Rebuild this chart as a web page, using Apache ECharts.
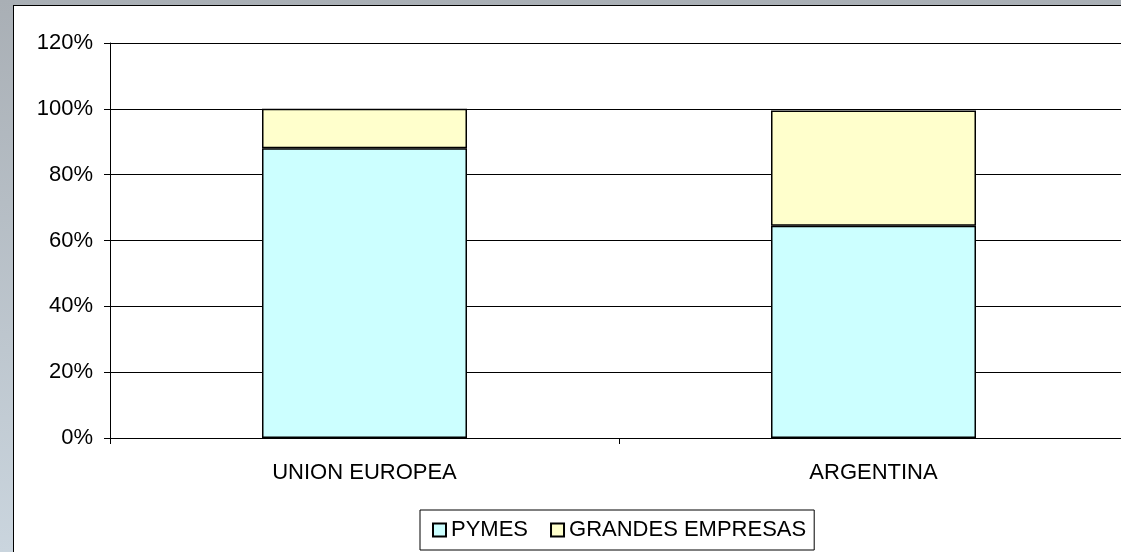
<!DOCTYPE html>
<html>
<head>
<meta charset="utf-8">
<script src="https://cdn.jsdelivr.net/npm/echarts@6/dist/echarts.min.js"></script>
<style>
  html, body {
    margin: 0;
    padding: 0;
    width: 1121px;
    height: 552px;
    overflow: hidden;
    background: linear-gradient(#a9afb5, #cad5de);
  }
  #chart {
    position: absolute;
    left: 13px;
    top: 5px;
    width: 1130px;
    height: 560px;
    border: 1px solid #000;
    background: #fff;
  }
</style>
</head>
<body>
<div id="chart"></div>
<script>
// datos
const categorias = ["UNION EUROPEA", "ARGENTINA"];
const pymes = [88, 64.5];
const grandesEmpresas = [12, 35];

const fuente = "'Liberation Sans', Arial, sans-serif";

const chart = echarts.init(document.getElementById("chart"));

const options = {
  animation: false,
  textStyle: { fontFamily: fuente, color: "#000" },
  grid: {
    left: 96,
    top: 37,
    width: 1018,
    height: 395,
  },
  legend: {
    left: 406,
    top: 504,
    orient: "horizontal",
    icon: "rect",
    itemWidth: 13,
    itemHeight: 13,
    itemGap: 22,
    borderColor: "#000",
    borderWidth: 1,
    padding: [9, 8, 9, 12],
    textStyle: { fontSize: 22, color: "#000", fontFamily: fuente },
    data: ["PYMES", "GRANDES EMPRESAS"],
  },
  xAxis: {
    type: "category",
    data: categorias,
    axisLine: { lineStyle: { color: "#000", width: 1 } },
    axisTick: { show: true, length: 6, lineStyle: { color: "#000" } },
    axisLabel: { fontSize: 22, color: "#000", margin: 24, fontFamily: fuente },
  },
  yAxis: {
    type: "value",
    min: 0,
    max: 120,
    interval: 20,
    axisLine: { show: true, lineStyle: { color: "#000", width: 1 } },
    axisTick: { show: true, length: 6, lineStyle: { color: "#000" } },
    axisLabel: {
      formatter: "{value}%",
      fontSize: 22,
      color: "#000",
      margin: 17,
      fontFamily: fuente,
    },
    splitLine: { show: true, lineStyle: { color: "#000", width: 1 } },
  },
  series: [
    {
      name: "PYMES",
      type: "bar",
      stack: "total",
      barWidth: 205,
      itemStyle: { color: "#ccffff", borderColor: "#000", borderWidth: 1.5 },
      data: pymes,
    },
    {
      name: "GRANDES EMPRESAS",
      type: "bar",
      stack: "total",
      barWidth: 205,
      itemStyle: { color: "#ffffcc", borderColor: "#000", borderWidth: 1.5 },
      data: grandesEmpresas,
    },
  ],
};

chart.setOption(options);
</script>
</body>
</html>
